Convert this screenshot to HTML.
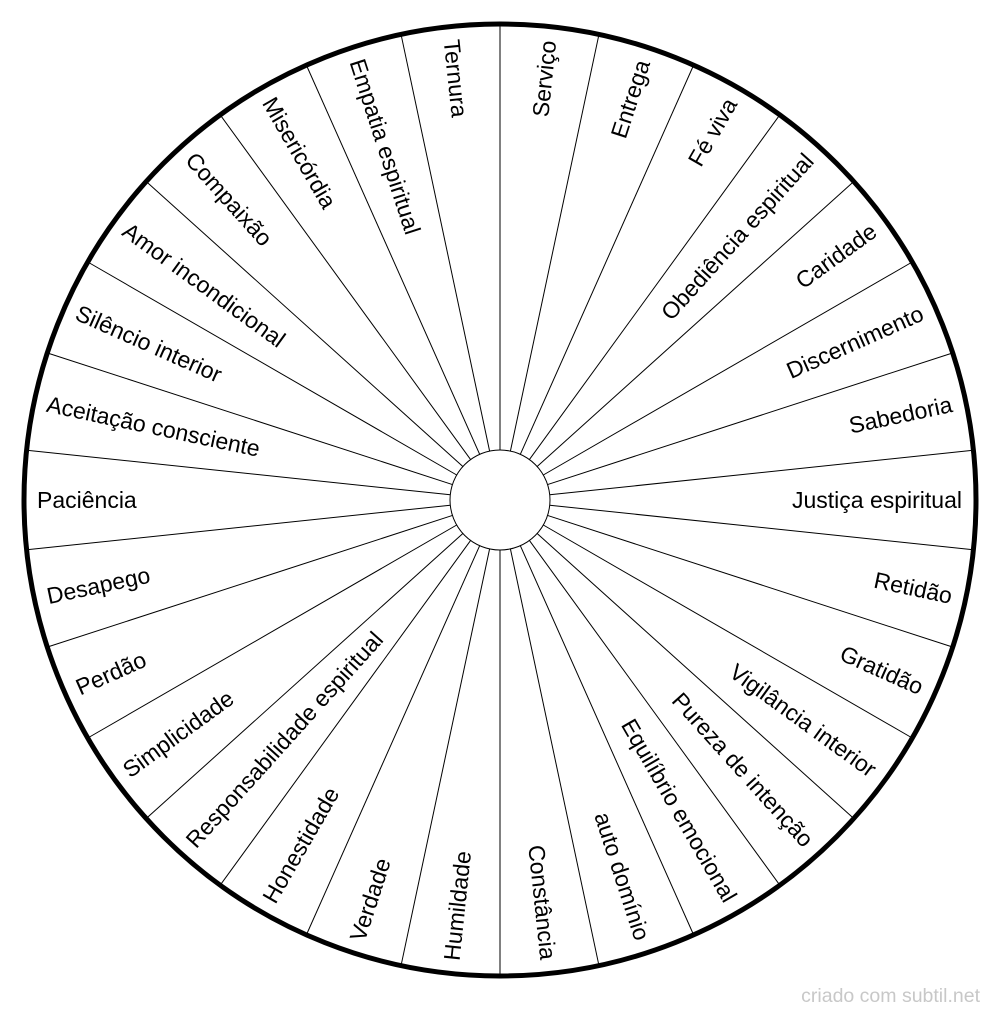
<!DOCTYPE html>
<html><head><meta charset="utf-8"><style>body{margin:0;background:#fff}svg{display:block}</style></head>
<body>
<svg id="s" width="1000" height="1016" viewBox="0 0 1000 1016" xmlns="http://www.w3.org/2000/svg" font-family="Liberation Sans, sans-serif" font-size="23">
<rect width="1000" height="1016" fill="#fff"/>
<g stroke="#000" stroke-width="1">
<line x1="500" y1="450" x2="500" y2="23" transform="rotate(0 500 500)"/>
<line x1="500" y1="450" x2="500" y2="23" transform="rotate(12 500 500)"/>
<line x1="500" y1="450" x2="500" y2="23" transform="rotate(24 500 500)"/>
<line x1="500" y1="450" x2="500" y2="23" transform="rotate(36 500 500)"/>
<line x1="500" y1="450" x2="500" y2="23" transform="rotate(48 500 500)"/>
<line x1="500" y1="450" x2="500" y2="23" transform="rotate(60 500 500)"/>
<line x1="500" y1="450" x2="500" y2="23" transform="rotate(72 500 500)"/>
<line x1="500" y1="450" x2="500" y2="23" transform="rotate(84 500 500)"/>
<line x1="500" y1="450" x2="500" y2="23" transform="rotate(96 500 500)"/>
<line x1="500" y1="450" x2="500" y2="23" transform="rotate(108 500 500)"/>
<line x1="500" y1="450" x2="500" y2="23" transform="rotate(120 500 500)"/>
<line x1="500" y1="450" x2="500" y2="23" transform="rotate(132 500 500)"/>
<line x1="500" y1="450" x2="500" y2="23" transform="rotate(144 500 500)"/>
<line x1="500" y1="450" x2="500" y2="23" transform="rotate(156 500 500)"/>
<line x1="500" y1="450" x2="500" y2="23" transform="rotate(168 500 500)"/>
<line x1="500" y1="450" x2="500" y2="23" transform="rotate(180 500 500)"/>
<line x1="500" y1="450" x2="500" y2="23" transform="rotate(192 500 500)"/>
<line x1="500" y1="450" x2="500" y2="23" transform="rotate(204 500 500)"/>
<line x1="500" y1="450" x2="500" y2="23" transform="rotate(216 500 500)"/>
<line x1="500" y1="450" x2="500" y2="23" transform="rotate(228 500 500)"/>
<line x1="500" y1="450" x2="500" y2="23" transform="rotate(240 500 500)"/>
<line x1="500" y1="450" x2="500" y2="23" transform="rotate(252 500 500)"/>
<line x1="500" y1="450" x2="500" y2="23" transform="rotate(264 500 500)"/>
<line x1="500" y1="450" x2="500" y2="23" transform="rotate(276 500 500)"/>
<line x1="500" y1="450" x2="500" y2="23" transform="rotate(288 500 500)"/>
<line x1="500" y1="450" x2="500" y2="23" transform="rotate(300 500 500)"/>
<line x1="500" y1="450" x2="500" y2="23" transform="rotate(312 500 500)"/>
<line x1="500" y1="450" x2="500" y2="23" transform="rotate(324 500 500)"/>
<line x1="500" y1="450" x2="500" y2="23" transform="rotate(336 500 500)"/>
<line x1="500" y1="450" x2="500" y2="23" transform="rotate(348 500 500)"/>
</g>
<circle cx="500" cy="500" r="50" fill="#fff" stroke="#000" stroke-width="1"/>
<circle cx="500" cy="500" r="476" fill="none" stroke="#000" stroke-width="5"/>
<g fill="#000" dominant-baseline="central">
<g text-anchor="end">
<text x="962" y="500" transform="rotate(-84 500 500)">Serviço</text>
<text x="962" y="500" transform="rotate(-72 500 500)">Entrega</text>
<text x="962" y="500" transform="rotate(-60 500 500)">Fé viva</text>
<text x="962" y="500" transform="rotate(-48 500 500)">Obediência espiritual</text>
<text x="962" y="500" transform="rotate(-36 500 500)">Caridade</text>
<text x="962" y="500" transform="rotate(-24 500 500)">Discernimento</text>
<text x="962" y="500" transform="rotate(-12 500 500)">Sabedoria</text>
<text x="962" y="500" transform="rotate(0 500 500)">Justiça espiritual</text>
<text x="962" y="500" transform="rotate(12 500 500)">Retidão</text>
<text x="962" y="500" transform="rotate(24 500 500)">Gratidão</text>
<text x="962" y="500" transform="rotate(36 500 500)">Vigilância interior</text>
<text x="962" y="500" transform="rotate(48 500 500)">Pureza de intenção</text>
<text x="962" y="500" transform="rotate(60 500 500)">Equilíbrio emocional</text>
<text x="962" y="500" transform="rotate(72 500 500)">auto domínio</text>
<text x="962" y="500" transform="rotate(84 500 500)">Constância</text>
</g>
<g text-anchor="start">
<text x="37" y="500" transform="rotate(-84 500 500)">Humildade</text>
<text x="37" y="500" transform="rotate(-72 500 500)">Verdade</text>
<text x="37" y="500" transform="rotate(-60 500 500)">Honestidade</text>
<text x="37" y="500" transform="rotate(-48 500 500)">Responsabilidade espiritual</text>
<text x="37" y="500" transform="rotate(-36 500 500)">Simplicidade</text>
<text x="37" y="500" transform="rotate(-24 500 500)">Perdão</text>
<text x="37" y="500" transform="rotate(-12 500 500)">Desapego</text>
<text x="37" y="500" transform="rotate(0 500 500)">Paciência</text>
<text x="37" y="500" transform="rotate(12 500 500)">Aceitação consciente</text>
<text x="37" y="500" transform="rotate(24 500 500)">Silêncio interior</text>
<text x="37" y="500" transform="rotate(36 500 500)">Amor incondicional</text>
<text x="37" y="500" transform="rotate(48 500 500)">Compaixão</text>
<text x="37" y="500" transform="rotate(60 500 500)">Misericórdia</text>
<text x="37" y="500" transform="rotate(72 500 500)">Empatia espiritual</text>
<text x="37" y="500" transform="rotate(84 500 500)">Ternura</text>
</g>
</g>
<text x="980" y="1002" text-anchor="end" font-size="19.5" fill="#c8c8c8">criado com subtil.net</text>
</svg>
</body></html>
